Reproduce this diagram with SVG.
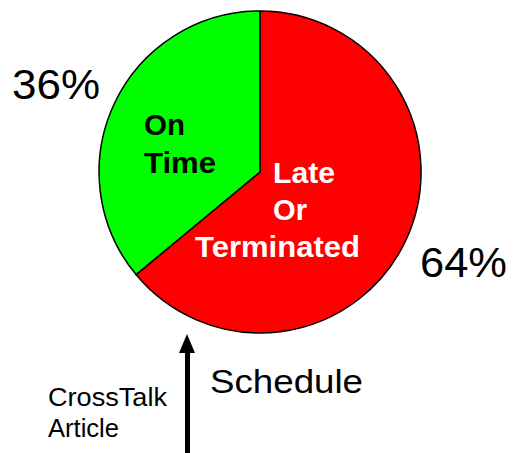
<svg xmlns="http://www.w3.org/2000/svg" width="513" height="453" viewBox="0 0 513 453">
  <style>
    .slice { stroke: #000; stroke-width: 1.5; stroke-linejoin: round; }
    .pct { font-family: "Liberation Sans", Arial, sans-serif; font-size: 42px; fill: #000; }
    .lbl { font-family: "Liberation Sans", Arial, sans-serif; font-weight: bold; font-size: 29px; }
    .cap { font-family: "Liberation Sans", Arial, sans-serif; fill: #000; }
  </style>
  <rect width="513" height="453" fill="#fff"/>

  <!-- pie slices -->
  <g id="late">
    <path class="slice" fill="#ff0000" d="M260,172 L260,11 A161,161 0 1 1 136,274.6 Z"/>
  </g>
  <g id="ontime">
    <path class="slice" fill="#00ff00" d="M260,172 L260,11 A161,161 0 0 0 136,274.6 Z"/>
  </g>

  <!-- slice labels -->
  <g id="ontime-label">
    <text class="lbl" fill="#000" x="144" y="135" textLength="41" lengthAdjust="spacingAndGlyphs">On</text>
    <text class="lbl" fill="#000" x="144" y="172.5" textLength="72" lengthAdjust="spacingAndGlyphs">Time</text>
  </g>
  <g id="late-label">
    <text class="lbl" fill="#fff" x="273" y="182.5" textLength="62" lengthAdjust="spacingAndGlyphs">Late</text>
    <text class="lbl" fill="#fff" x="273" y="220" textLength="34" lengthAdjust="spacingAndGlyphs">Or</text>
    <text class="lbl" fill="#fff" x="195" y="257" textLength="165" lengthAdjust="spacingAndGlyphs">Terminated</text>
  </g>

  <!-- percentages -->
  <g id="pct-ontime">
    <text class="pct" x="12" y="99" textLength="88" lengthAdjust="spacingAndGlyphs">36%</text>
  </g>
  <g id="pct-late">
    <text class="pct" x="420" y="277" textLength="87" lengthAdjust="spacingAndGlyphs">64%</text>
  </g>

  <!-- pointer arrow -->
  <g id="connectors">
    <rect x="185" y="350" width="5" height="103" fill="#000"/>
    <polygon points="187,334 179,353 195,353" fill="#000"/>
  </g>

  <g id="schedule">
    <text class="cap" x="210" y="393" font-size="34" textLength="153" lengthAdjust="spacingAndGlyphs">Schedule</text>
  </g>
  <g id="source">
    <text class="cap" x="48" y="406" font-size="26" textLength="119" lengthAdjust="spacingAndGlyphs">CrossTalk</text>
    <text class="cap" x="48" y="437" font-size="26" textLength="71" lengthAdjust="spacingAndGlyphs">Article</text>
  </g>
</svg>
